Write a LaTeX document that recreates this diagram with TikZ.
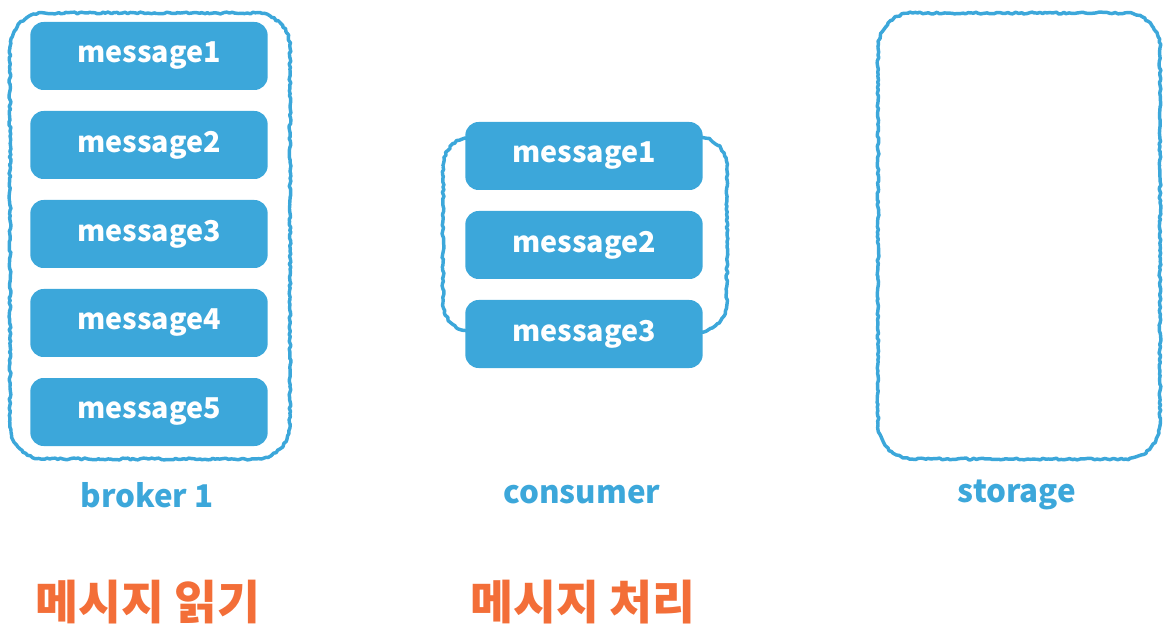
\documentclass[tikz,border=0pt]{standalone}
\usepackage{fontspec}
\setmainfont{Noto Sans CJK KR}
\usetikzlibrary{decorations.pathmorphing}

\definecolor{msgblue}{RGB}{60,167,218}
\definecolor{korange}{RGB}{243,110,56}

\tikzset{
  msg/.style={rectangle, rounded corners=10pt, fill=msgblue, text=white,
    minimum width=178pt, minimum height=51pt, inner sep=0pt, font=\fontsize{21.5}{26}\selectfont\bfseries},
  sketchline/.style={draw=msgblue, line width=2.6pt, line join=round,
    decorate, decoration={random steps, segment length=2pt, amplitude=0.7pt}},
  boxlabel/.style={text=msgblue, font=\fontsize{23.5}{28}\selectfont\bfseries},
  steplabel/.style={text=korange, font=\fontsize{35}{42}\selectfont\bfseries}
}

\begin{document}
\begin{tikzpicture}[x=0.75pt, y=-0.75pt]
\useasboundingbox (0,0) rectangle (1170,634);

% we draw the sketchy borders
\draw[sketchline] {[rounded corners=26pt] (10,13) rectangle (290,459)};
\draw[sketchline] {[rounded corners=22pt] (443,137) rectangle (727,332)};
\draw[sketchline] {[rounded corners=26pt] (878,13) rectangle (1160,459)};

% messages in the broker
\node (b1) [msg] at (149,56) {message1};
\node (b2) [msg] at (149,145) {message2};
\node (b3) [msg] at (149,234) {message3};
\node (b4) [msg] at (149,323) {message4};
\node (b5) [msg] at (149,412) {message5};

% messages in the consumer
\node (c1) [msg] at (584,156) {message1};
\node (c2) [msg] at (584,245) {message2};
\node (c3) [msg] at (584,334) {message3};

% we add some labels
\node (broker) [boxlabel] at (147,495) {broker 1};
\node (consumer) [boxlabel] at (582,495) {consumer};
\node (storage) [boxlabel] at (1017,495) {storage};

% steps
\node (read) [steplabel] at (148,602) {메시지 읽기};
\node (handle) [steplabel] at (583,602) {메시지 처리};

\end{tikzpicture}
\end{document}
